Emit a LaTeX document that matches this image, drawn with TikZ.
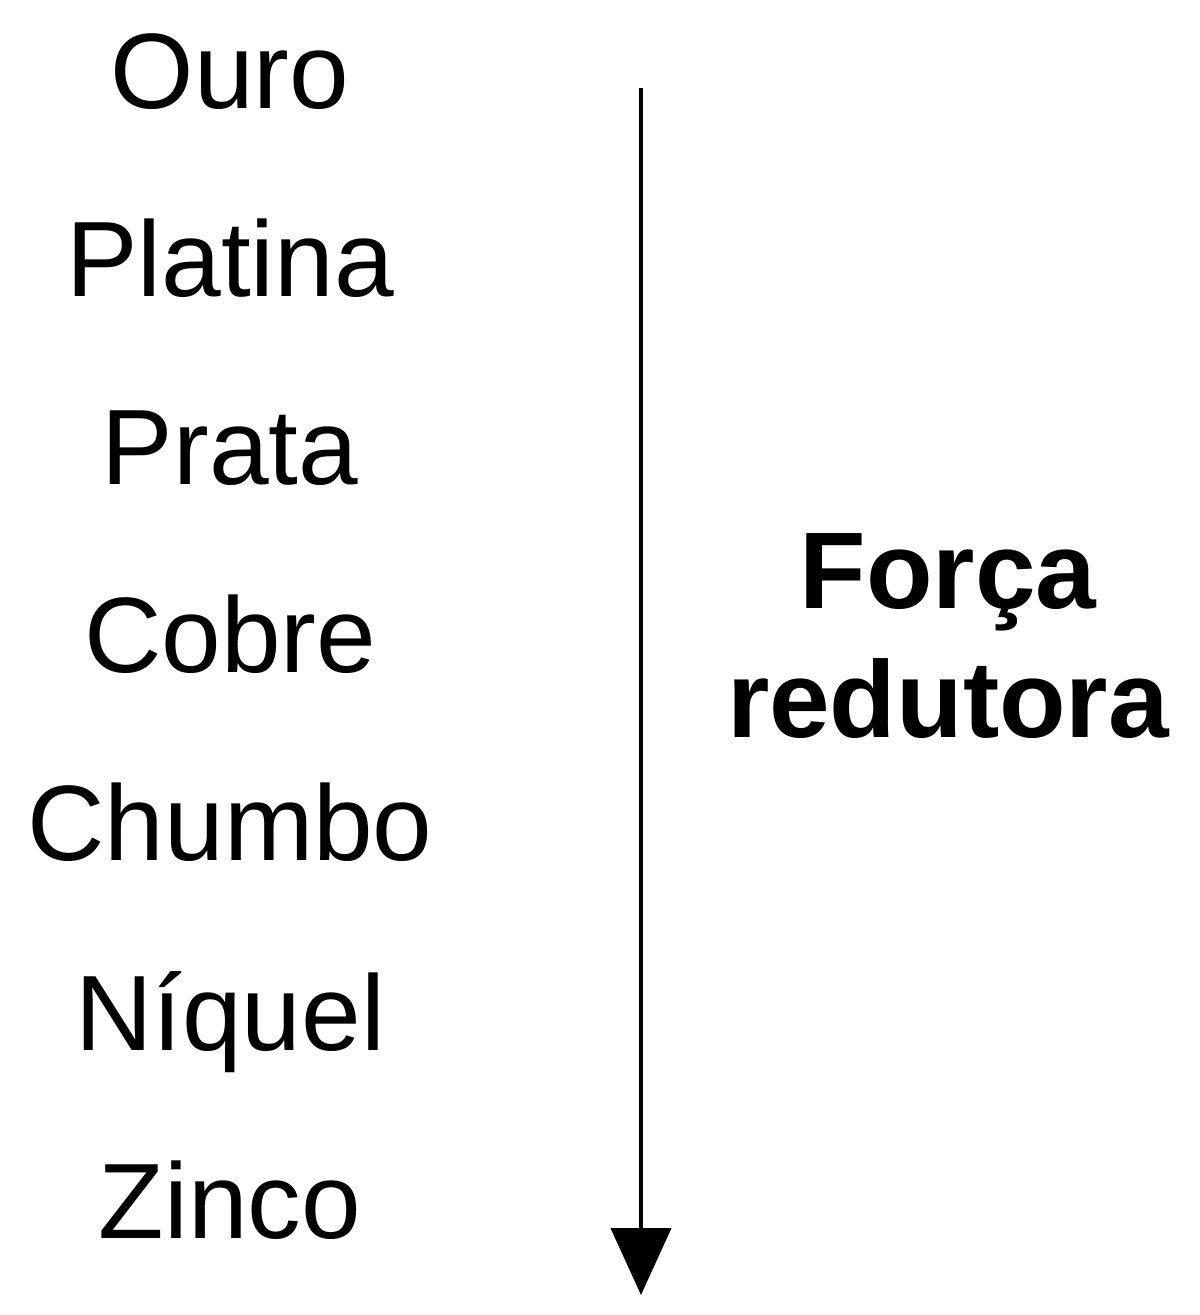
\documentclass[tikz,border=0pt]{standalone}
\usepackage{fontspec}
\setmainfont{Liberation Sans}
\usepackage{tikz}
\usetikzlibrary{arrows.meta}

\begin{document}
\begin{tikzpicture}
	 [x=1cm,y=1cm,every node/.style={inner sep=0pt,anchor=base,font=\fontsize{30.5}{36}\selectfont}]
	\useasboundingbox (0,0) rectangle (12,-13.15);

	\foreach \name/\metal/\y in {ouro/Ouro/1.08,platina/Platina/2.96,prata/Prata/4.84,cobre/Cobre/6.72,chumbo/Chumbo/8.60,niquel/Níquel/10.50,zinco/Zinco/12.38}
	  \node (\name) at (2.3,-\y) {\metal};

	\coordinate (topo) at (6.41,-0.88);
	\coordinate (base) at (6.41,-12.95);
	\draw[line width=1.2pt,-{Triangle[length=0.67cm,width=0.6cm]}] (topo) -- (base);

	\node[font=\fontsize{31}{36}\selectfont\bfseries] (forca) at (9.48,-6.08) {Força};
	\node[font=\fontsize{31}{36}\selectfont\bfseries] (redutora) at (9.48,-7.37) {redutora};

\end{tikzpicture}
\end{document}
